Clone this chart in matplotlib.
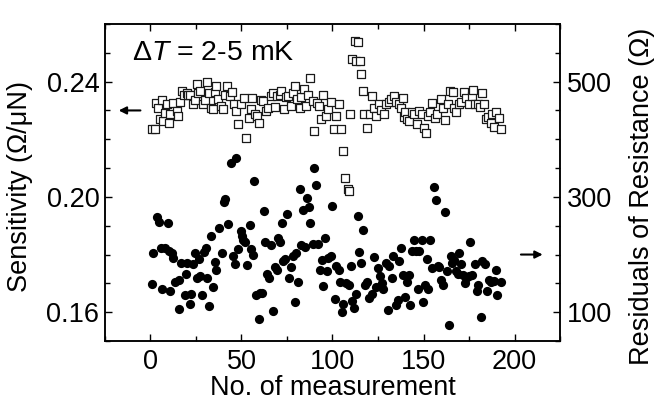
import numpy as np
import matplotlib
matplotlib.use("Agg")
import matplotlib.pyplot as plt
from matplotlib.ticker import MultipleLocator

plt.rcParams['font.family'] = ['Liberation Sans', 'DejaVu Sans']
plt.rcParams['mathtext.fontset'] = 'custom'
plt.rcParams['mathtext.rm'] = 'Liberation Sans'
plt.rcParams['mathtext.it'] = 'Liberation Sans:italic'

# open squares : sensitivity (left axis)
sq_x = [0.6, 2.4, 3.3, 4.2, 5.2, 6.1, 7.0, 7.9, 8.8, 10.1,
        10.6, 12.5, 14.3, 15.2, 16.1, 17.4, 18.5, 19.8, 20.7, 21.6,
        23.4, 24.3, 25.3, 26.2, 27.1, 28.9, 29.8, 31.3, 32.1, 33.5,
        34.4, 35.3, 36.2, 37.1, 38.5, 39.8, 40.7, 42.3, 43.6, 44.9,
        46.0, 47.2, 48.1, 49.5, 51.3, 52.7, 54.1, 55.2, 55.9, 57.4,
        58.6, 59.5, 60.6, 61.9, 63.7, 64.6, 66.1, 67.3, 68.2, 69.7,
        70.9, 71.8, 73.3, 74.5, 75.8, 77.2, 78.5, 79.2, 80.6, 81.9,
        82.8, 84.1, 85.5, 86.8, 87.8, 89.2, 90.1, 91.5, 92.8, 93.7,
        95.0, 96.4, 97.3, 99.1, 101.0, 104.8, 103.8, 102.0, 106.0, 107.0,
        108.4, 109.3, 109.7, 110.8, 112.1, 113.9, 113.0, 115.2, 115.7, 116.6,
        117.5, 118.8, 120.5, 121.8, 123.0, 124.1, 125.8, 126.7, 128.5, 129.4,
        130.9, 132.2, 134.0, 134.9, 136.4, 137.7, 139.0, 139.5, 140.0, 140.8,
        142.2, 143.7, 145.0, 146.2, 147.4, 149.2, 150.4, 151.3, 152.2, 153.4,
        154.9, 156.3, 157.6, 159.6, 160.9, 162.0, 163.3, 164.5, 166.0, 166.9,
        167.8, 169.3, 170.5, 172.4, 173.3, 174.8, 176.6, 177.3, 178.5, 179.7,
        181.0, 182.4, 183.3, 184.6, 185.7, 186.9, 187.8, 188.8, 189.7, 191.6,
        192.5]
sq_s = [0.2234, 0.2234, 0.2327, 0.2307, 0.2269, 0.2336, 0.2263, 0.2292, 0.2322, 0.2255,
        0.2286, 0.2327, 0.2298, 0.2280, 0.2330, 0.2367, 0.2355, 0.2361, 0.2352, 0.2355,
        0.2321, 0.2336, 0.2393, 0.2361, 0.2367, 0.2321, 0.2336, 0.2399, 0.2361, 0.2309,
        0.2306, 0.2364, 0.2386, 0.2338, 0.2316, 0.2304, 0.2355, 0.2384, 0.2350, 0.2364,
        0.2324, 0.2298, 0.2252, 0.2322, 0.2344, 0.2205, 0.2275, 0.2304, 0.2344, 0.2286,
        0.2280, 0.2257, 0.2336, 0.2332, 0.2298, 0.2309, 0.2350, 0.2359, 0.2313, 0.2350,
        0.2355, 0.2367, 0.2306, 0.2347, 0.2350, 0.2316, 0.2361, 0.2384, 0.2338, 0.2309,
        0.2347, 0.2375, 0.2316, 0.2355, 0.2413, 0.2332, 0.2229, 0.2327, 0.2316, 0.2270,
        0.2352, 0.2280, 0.2304, 0.2330, 0.2237, 0.2237, 0.2321, 0.2280, 0.2160, 0.2066,
        0.2028, 0.2022, 0.2289, 0.2479, 0.2541, 0.2537, 0.2473, 0.2470, 0.2428, 0.2367,
        0.2289, 0.2240, 0.2287, 0.2349, 0.2309, 0.2280, 0.2323, 0.2302, 0.2287, 0.2323,
        0.2330, 0.2338, 0.2349, 0.2330, 0.2321, 0.2309, 0.2343, 0.2277, 0.2293, 0.2269,
        0.2264, 0.2293, 0.2287, 0.2252, 0.2298, 0.2287, 0.2238, 0.2223, 0.2281, 0.2296,
        0.2327, 0.2275, 0.2289, 0.2341, 0.2309, 0.2266, 0.2321, 0.2369, 0.2364, 0.2309,
        0.2296, 0.2321, 0.2330, 0.2363, 0.2343, 0.2321, 0.2349, 0.2372, 0.2321, 0.2323,
        0.2312, 0.2361, 0.2323, 0.2269, 0.2277, 0.2257, 0.2287, 0.2243, 0.2296, 0.2273,
        0.2234]

# filled circles : residuals of resistance (right axis)
ci_x = [0.6, 1.5, 3.7, 4.6, 6.4, 6.0, 7.8, 9.5, 10.0, 10.6,
        11.6, 12.5, 13.4, 15.4, 15.4, 17.0, 18.9, 19.4, 20.1, 21.6,
        22.5, 23.4, 24.7, 25.3, 26.5, 27.1, 28.5, 29.3, 30.4, 31.3,
        32.4, 33.5, 34.4, 35.3, 36.2, 37.5, 39.1, 40.2, 40.9, 42.6,
        44.5, 45.3, 46.3, 47.2, 48.1, 49.9, 50.5, 50.8, 52.2, 53.2,
        54.5, 55.4, 56.3, 56.9, 58.2, 59.4, 60.0, 61.2, 62.2, 63.1,
        64.0, 64.9, 66.0, 67.3, 68.6, 69.5, 70.0, 70.9, 72.2, 72.8,
        73.7, 75.2, 76.0, 77.3, 78.2, 79.2, 80.2, 81.0, 81.9, 82.8,
        83.7, 85.0, 85.9, 87.0, 87.9, 89.2, 90.1, 91.0, 91.9, 92.9,
        94.1, 95.0, 96.0, 97.0, 97.6, 99.8, 99.3, 101.1, 102.0, 103.3,
        104.2, 105.1, 106.0, 107.4, 108.9, 109.9, 110.8, 111.7, 113.0, 113.9,
        114.8, 115.7, 117.0, 117.9, 118.9, 120.3, 121.5, 123.0, 124.0, 124.8,
        126.1, 127.2, 128.0, 129.4, 130.7, 131.3, 132.7, 133.4, 134.9, 136.0,
        136.7, 137.7, 138.6, 140.0, 141.0, 141.9, 142.8, 143.5, 144.6, 145.8,
        146.8, 147.7, 149.0, 149.9, 150.8, 151.7, 152.6, 153.7, 154.7, 155.6,
        156.7, 157.8, 158.7, 159.6, 160.5, 161.6, 162.7, 163.8, 165.0, 165.9,
        166.8, 167.7, 168.7, 169.6, 170.5, 171.8, 172.7, 173.6, 175.1, 175.6,
        176.8, 178.2, 179.3, 180.2, 181.5, 182.4, 183.7, 184.8, 186.0, 187.3,
        188.5, 189.7, 190.6, 192.4]
ci_r = [149, 203, 266, 256, 140, 212, 212, 255, 207, 136,
        202, 194, 152, 106, 156, 186, 130, 166, 185, 114,
        132, 183, 202, 160, 193, 163, 130, 205, 212, 159,
        110, 233, 144, 187, 173, 246, 202, 292, 296, 253,
        358, 197, 184, 367, 210, 240, 233, 225, 222, 182,
        252, 209, 199, 327, 129, 88, 133, 133, 275, 222,
        167, 160, 216, 102, 179, 173, 229, 222, 255, 188,
        193, 270, 159, 178, 197, 117, 203, 153, 314, 216,
        278, 213, 298, 282, 255, 219, 351, 321, 219, 173,
        191, 146, 229, 171, 194, 284, 197, 123, 180, 173,
        153, 101, 114, 150, 148, 180, 120, 107, 132, 267,
        205, 186, 242, 148, 153, 125, 132, 196, 143, 177,
        163, 151, 140, 186, 104, 180, 159, 197, 113, 122,
        188, 212, 164, 127, 153, 164, 113, 206, 226, 206,
        140, 206, 225, 118, 148, 193, 140, 226, 176, 318,
        294, 180, 178, 156, 148, 274, 171, 77, 197, 186,
        190, 171, 167, 203, 184, 164, 150, 160, 162, 221,
        164, 183, 137, 148, 91, 188, 184, 136, 156, 153,
        154, 173, 129, 152]

fig = plt.figure(figsize=(6.59, 4.08), dpi=100)
ax = fig.add_axes([0.1593, 0.1642, 0.6905, 0.777])
ax2 = ax.twinx()

ax.scatter(sq_x, sq_s, s=34, marker='s', facecolor='white',
           edgecolor='#1a1a1a', linewidth=0.9, zorder=3)
ax2.scatter(ci_x, ci_r, s=44, marker='o', color='black', linewidth=0, zorder=3)

ax.set_xlim(-25, 225)
ax.set_ylim(0.15, 0.26)
ax2.set_ylim(50, 600)

ax.xaxis.set_major_locator(MultipleLocator(50))
ax.xaxis.set_minor_locator(MultipleLocator(25))
ax.yaxis.set_minor_locator(MultipleLocator(0.01))
ax.set_yticks([0.16, 0.20, 0.24])
ax.set_yticklabels(['0.16', '0.20', '0.24'])
ax2.set_yticks([100, 300, 500])
ax2.yaxis.set_minor_locator(MultipleLocator(50))

ax.tick_params(which='both', direction='in', top=True, right=False,
               labelsize=19.5, width=1.0)
ax.tick_params(which='major', length=5)
ax.tick_params(which='minor', length=3.5)
ax.tick_params(axis='x', pad=6)
ax.tick_params(axis='y', pad=4)
ax2.tick_params(which='both', direction='in', labelsize=19.5, width=1.0, pad=5)
ax2.tick_params(which='major', length=5)
ax2.tick_params(which='minor', length=3.5)

for a in (ax, ax2):
    for sp in a.spines.values():
        sp.set_linewidth(1.1)

ax.set_xlabel('No. of measurement', fontsize=19.5, labelpad=0)
# axis titles on the sides, placed in figure pixels
fig.text(20 / 659, 1 - 186 / 408, 'Sensitivity (Ω/μN)', fontsize=19.5,
         rotation=90, ha='center', va='center')
fig.text(642 / 659, 1 - 196 / 408, 'Residuals of Resistance (Ω)', fontsize=19.5,
         rotation=90, ha='center', va='center')

ax.text(-10, 0.2476, r'$\Delta \mathit{T}$ = 2-5 mK', fontsize=20.5, va='baseline')

ax.annotate('', xy=(-19, 0.23), xytext=(-4, 0.23),
            arrowprops=dict(arrowstyle='-|>', color='black', lw=1.5, mutation_scale=11))
ax2.annotate('', xy=(217, 200), xytext=(202, 200),
             arrowprops=dict(arrowstyle='-|>', color='black', lw=1.5, mutation_scale=11))

fig.savefig('out.png', dpi=100)
